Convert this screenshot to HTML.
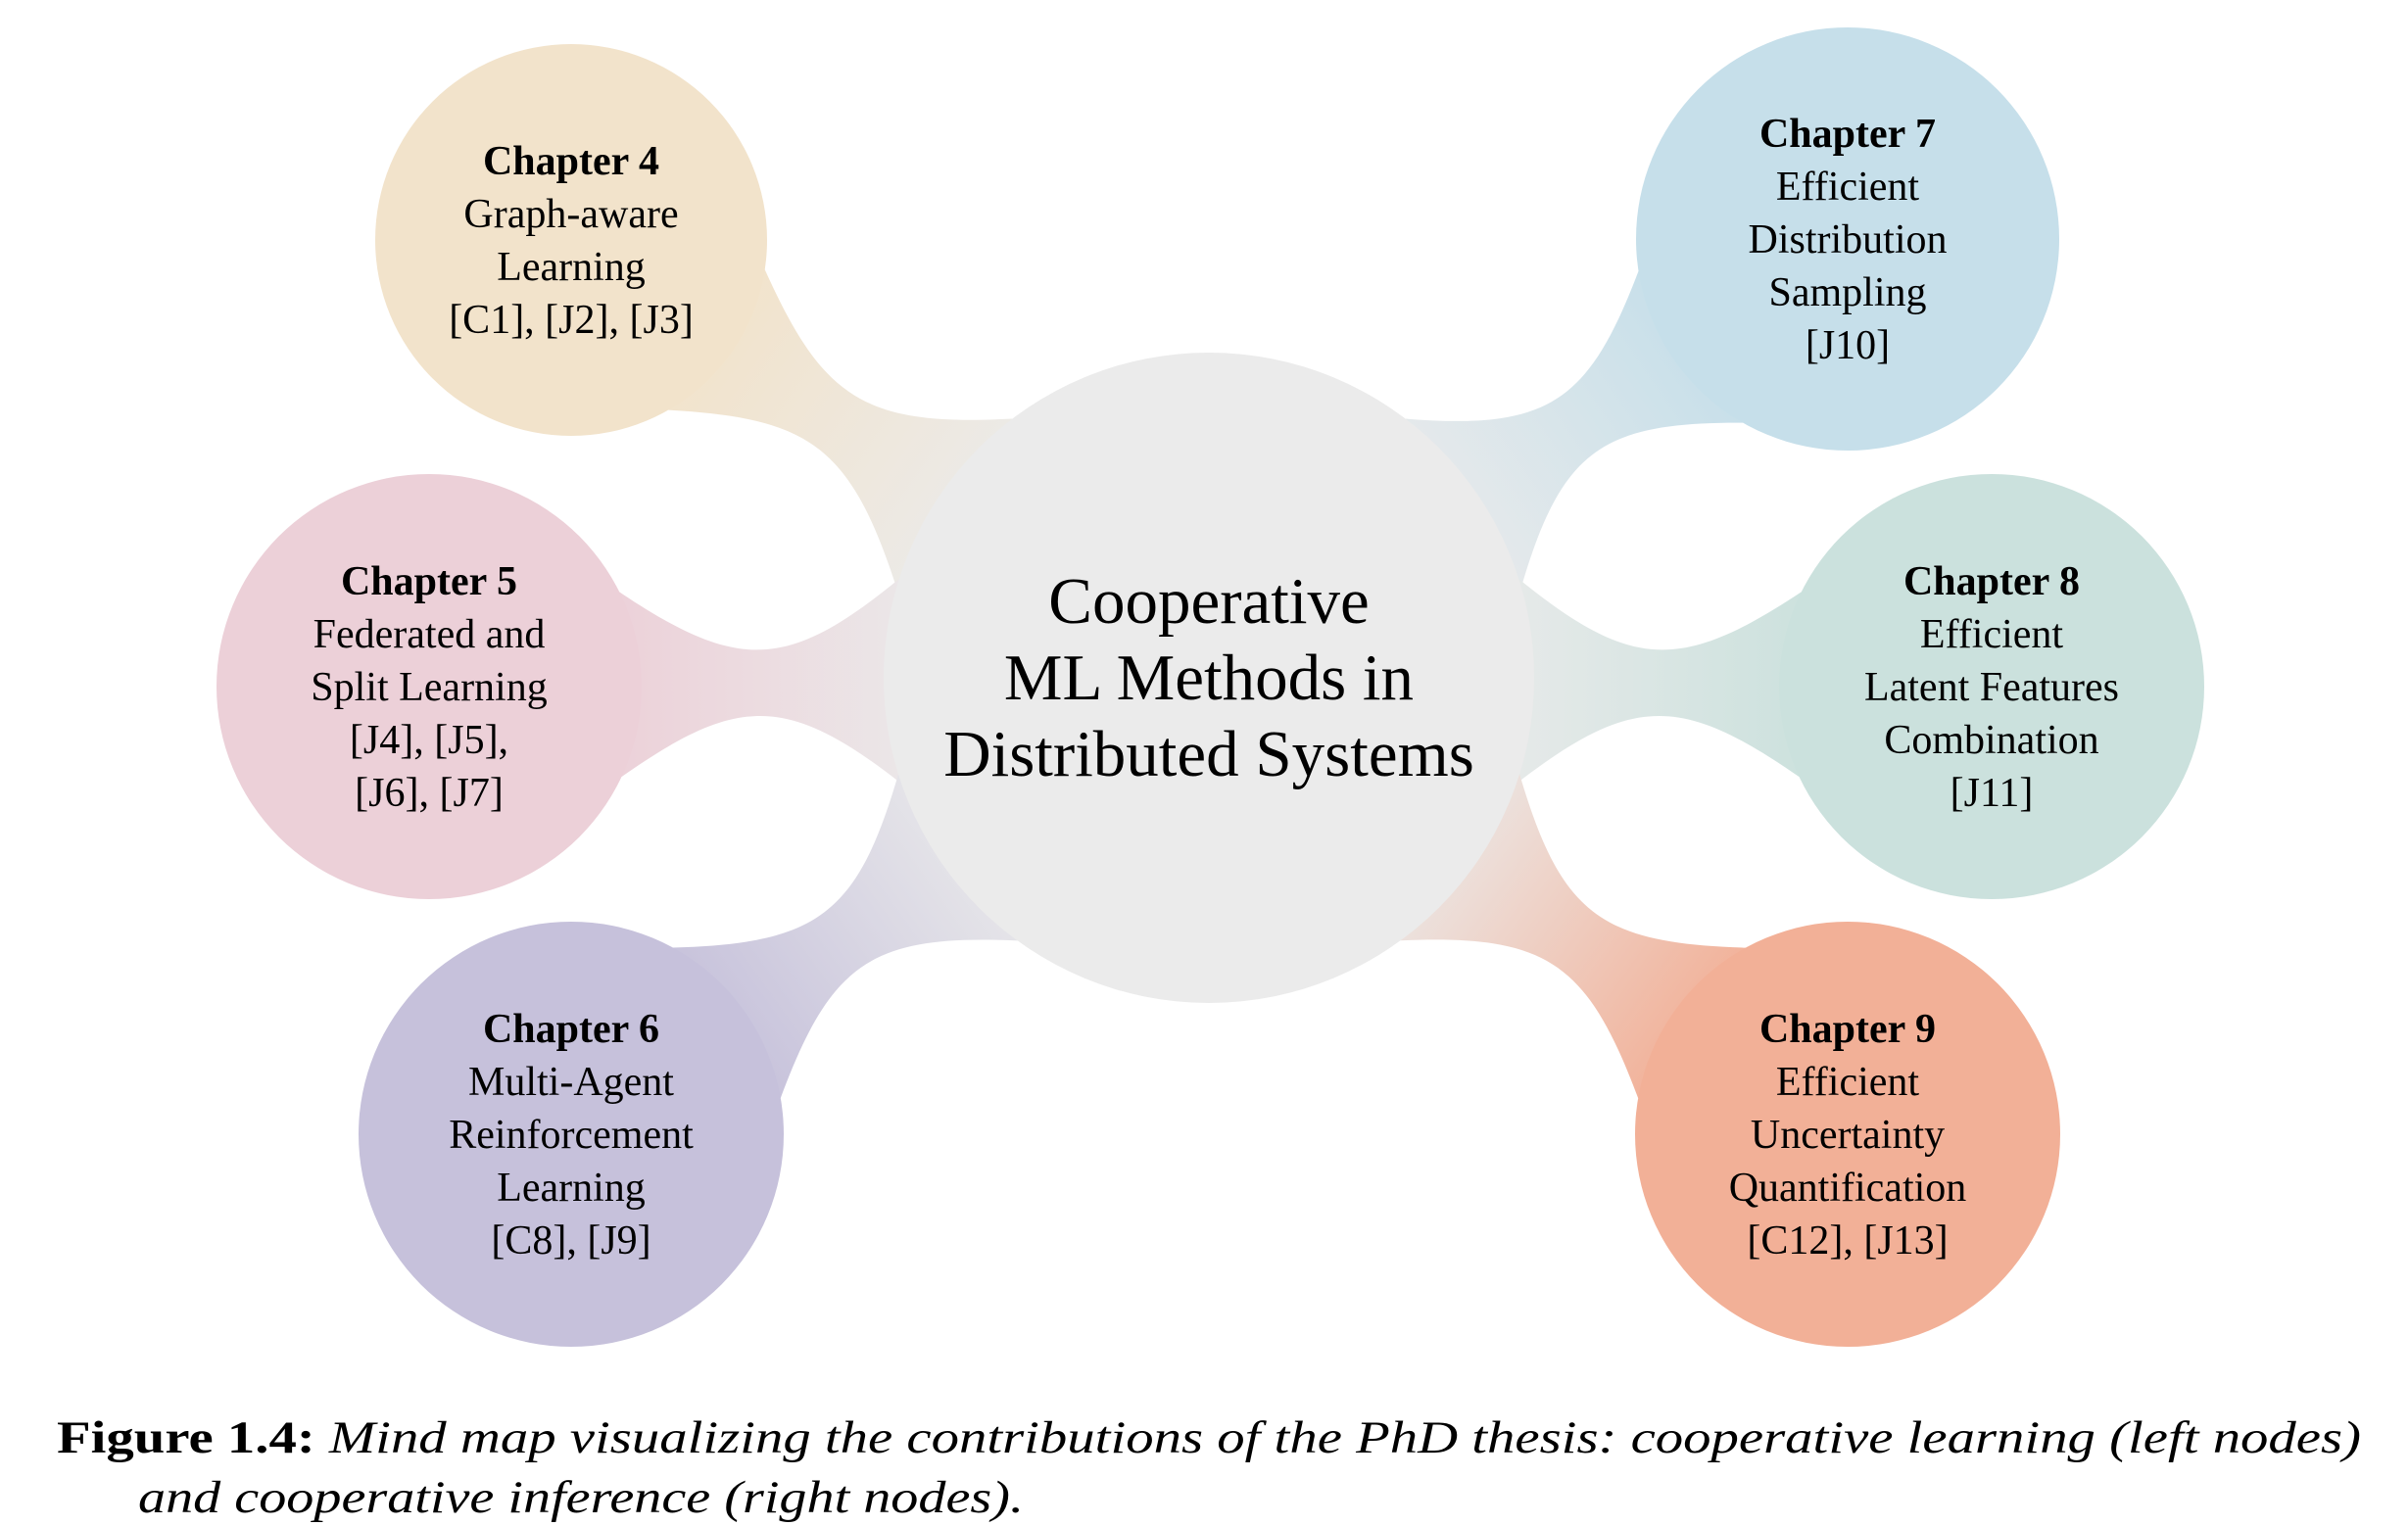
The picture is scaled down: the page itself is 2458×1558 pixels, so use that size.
<!DOCTYPE html>
<html><head><meta charset="utf-8"><style>
html,body{margin:0;padding:0;background:#fff;}
svg{display:block;}
text{font-family:"Liberation Serif","Times New Roman",serif;fill:#000;}
</style></head><body>
<svg id="map" width="2458" height="1558" viewBox="0 0 2458 1558" xmlns="http://www.w3.org/2000/svg">
<defs id="defs"></defs>
<g id="links"></g>
<g id="nodes"></g>
<g id="caption">
<text x="58" y="1483" font-size="47" textLength="2352" lengthAdjust="spacingAndGlyphs"><tspan font-weight="bold">Figure 1.4:</tspan> <tspan font-style="italic">Mind map visualizing the contributions of the PhD thesis: cooperative learning (left nodes)</tspan></text>
<text x="141" y="1544" font-size="47" font-style="italic" textLength="904" lengthAdjust="spacingAndGlyphs">and cooperative inference (right nodes).</text>
</g>
</svg>
<script>
const nodeTitles = ["Chapter 4","Chapter 5","Chapter 6","Chapter 7","Chapter 8","Chapter 9"];
const nodeLines = [
 ["Graph-aware","Learning","[C1], [J2], [J3]"],
 ["Federated and","Split Learning","[J4], [J5],","[J6], [J7]"],
 ["Multi-Agent","Reinforcement","Learning","[C8], [J9]"],
 ["Efficient","Distribution","Sampling","[J10]"],
 ["Efficient","Latent Features","Combination","[J11]"],
 ["Efficient","Uncertainty","Quantification","[C12], [J13]"]
];
const nodeColors = ["#f2e3cb","#ecd0d8","#c6c1db","#c6dfea","#cbe1dd","#f2b097"];
const nodeX = [583,438,583,1886,2033,1886];
const nodeY = [245,701,1158,244,701,1158];
const nodeR = [200,217,217,216,217,217];
const centerLines = ["Cooperative","ML Methods in","Distributed Systems"];
const cx=1234, cy=692, cR=332, centerColor="#ebebeb";
const NS="http://www.w3.org/2000/svg";
const defs=document.getElementById('defs'), links=document.getElementById('links'), nodes=document.getElementById('nodes');
function mk(t,a){const e=document.createElementNS(NS,t);for(const k in a)e.setAttribute(k,a[k]);return e;}
nodeX.forEach((nx,i)=>{
  const ny=nodeY[i], r=nodeR[i];
  const dx=nx-cx, dy=ny-cy, d=Math.hypot(dx,dy), ux=dx/d, uy=dy/d, px=-uy, py=ux;
  const th=0.32, ph=0.45;
  const a1=[cx+cR*(ux*Math.cos(th)+px*Math.sin(th)), cy+cR*(uy*Math.cos(th)+py*Math.sin(th))];
  const a2=[cx+cR*(ux*Math.cos(th)-px*Math.sin(th)), cy+cR*(uy*Math.cos(th)-py*Math.sin(th))];
  const b1=[nx-r*(ux*Math.cos(ph)-px*Math.sin(ph)), ny-r*(uy*Math.cos(ph)-py*Math.sin(ph))];
  const b2=[nx-r*(ux*Math.cos(ph)+px*Math.sin(ph)), ny-r*(uy*Math.cos(ph)+py*Math.sin(ph))];
  const mx=(cx+cR*ux + nx-r*ux)/2, my=(cy+cR*uy + ny-r*uy)/2, w=12, k=25;
  const c1=[mx+px*w-ux*k, my+py*w-uy*k], c2=[mx+px*w+ux*k, my+py*w+uy*k];
  const c3=[mx-px*w+ux*k, my-py*w+uy*k], c4=[mx-px*w-ux*k, my-py*w-uy*k];
  const g=mk('linearGradient',{id:'g'+i,gradientUnits:'userSpaceOnUse',x1:cx+cR*0.75*ux,y1:cy+cR*0.75*uy,x2:nx-r*0.8*ux,y2:ny-r*0.8*uy});
  g.appendChild(mk('stop',{offset:'0','stop-color':centerColor}));
  g.appendChild(mk('stop',{offset:'1','stop-color':nodeColors[i]}));
  defs.appendChild(g);
  const p=mk('path',{d:`M${a1} C${c1} ${c2} ${b1} L${nx},${ny} L${b2} C${c3} ${c4} ${a2} L${cx},${cy} Z`,fill:'url(#g'+i+')'});
  
  
  links.appendChild(p);
});
const cc=mk('circle',{cx:cx,cy:cy,r:cR,fill:centerColor});


nodes.appendChild(cc);
centerLines.forEach((s,j)=>{
  const t=mk('text',{x:cx,y:cy-56+j*78,'font-size':67,'text-anchor':'middle'});
  t.textContent=s;
  
  
  nodes.appendChild(t);
});
nodeX.forEach((nx,i)=>{
  const ny=nodeY[i];
  const g=mk('g',{});
  
  
  g.appendChild(mk('circle',{cx:nx,cy:ny,r:nodeR[i],fill:nodeColors[i]}));
  const lines=[nodeTitles[i]].concat(nodeLines[i]);
  const lh=54, top=ny-(lines.length-1)*lh/2+14;
  lines.forEach((s,j)=>{
    const t=mk('text',{x:nx,y:top+j*lh,'font-size':42,'text-anchor':'middle'});
    if(j===0)t.setAttribute('font-weight','bold');
    t.textContent=s;
    
    
    g.appendChild(t);
  });
  nodes.appendChild(g);
});
</script>
</body></html>
